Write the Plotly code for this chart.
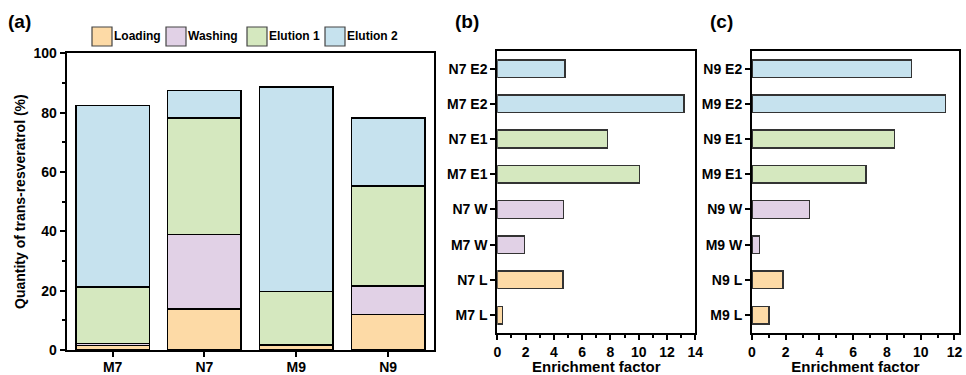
import plotly.graph_objects as go

# ---------------- data ----------------
samples = ["M7", "N7", "M9", "N9"]
steps = ["Loading", "Washing", "Elution 1", "Elution 2"]
loading = [1.5, 13.9, 1.7, 11.9]
washing = [0.7, 25.0, 0.2, 9.6]
elution1 = [19.0, 39.3, 17.8, 33.7]
elution2 = [61.2, 9.2, 69.0, 23.0]

b_labels = ["M7 L", "N7 L", "M7 W", "N7 W", "M7 E1", "N7 E1", "M7 E2", "N7 E2"]
b_values = [0.38, 4.64, 1.91, 4.67, 10.04, 7.78, 13.2, 4.77]
c_labels = ["M9 L", "N9 L", "M9 W", "N9 W", "M9 E1", "N9 E1", "M9 E2", "N9 E2"]
c_values = [1.01, 1.85, 0.45, 3.41, 6.76, 8.44, 11.48, 9.45]
step_of_bar = [0, 0, 1, 1, 2, 2, 3, 3]

colors = ["#FDDAA6", "#E1D1E6", "#D5E8BF", "#C6E2EE"]

W, H = 966, 375
FONT = "Arial, Liberation Sans, sans-serif"


def px(x):
    return x / W


def py(y):
    return 1 - y / H


fig = go.Figure()

# panel (a) stacked bars
for name, vals, col in zip(steps, [loading, washing, elution1, elution2], colors):
    fig.add_trace(go.Bar(x=samples, y=vals, name=name, marker=dict(color=col, line=dict(color="black", width=1.5)),
                         width=0.8, xaxis="x", yaxis="y", showlegend=False))

# panel (b)
fig.add_trace(go.Bar(y=b_labels, x=b_values, orientation="h", width=0.5,
                     marker=dict(color=[colors[i] for i in step_of_bar], line=dict(color="#333", width=1.5)),
                     xaxis="x2", yaxis="y2", showlegend=False))
# panel (c)
fig.add_trace(go.Bar(y=c_labels, x=c_values, orientation="h", width=0.5,
                     marker=dict(color=[colors[i] for i in step_of_bar], line=dict(color="#333", width=1.5)),
                     xaxis="x3", yaxis="y3", showlegend=False))

tickfont = dict(family=FONT, size=14, color="black", weight="bold")
axcommon = dict(showline=True, linecolor="black", linewidth=2, mirror=True, ticks="outside",
                ticklen=5, tickwidth=1.5, tickcolor="black", tickfont=tickfont, showgrid=False,
                zeroline=False, automargin=False, ticklabeloverflow="allow")
minor_common = dict(ticks="outside", ticklen=3, tickwidth=1.5, tickcolor="black")
xtitle_font = dict(family=FONT, size=15, color="black", weight="bold")

fig.update_layout(
    width=W, height=H, margin=dict(l=0, r=0, t=0, b=0, autoexpand=False),
    plot_bgcolor="white", paper_bgcolor="white", barmode="stack",
    font=dict(family=FONT, color="black"),
    xaxis=dict(domain=[px(66.7), px(434)], range=[-0.5, 3.5], ticklabelstandoff=-2, **axcommon),
    yaxis=dict(domain=[py(350), py(53.3)], range=[0, 100], dtick=20,
               minor=dict(dtick=10, **minor_common),
               title=dict(text="Quantity of trans-resveratrol (%)",
                          font=dict(family=FONT, size=14, color="black", weight="bold"), standoff=5),
               **axcommon),
    xaxis2=dict(domain=[px(497.3), px(695.3)], range=[0, 14], dtick=2, anchor="y2",
                minor=dict(dtick=1, **minor_common),
                title=dict(text="Enrichment factor", font=xtitle_font, standoff=2),
                **axcommon),
    yaxis2=dict(domain=[py(332.7), py(51)], range=[-0.5, 7.5], anchor="x2",
                categoryorder="array", categoryarray=b_labels, **axcommon),
    xaxis3=dict(domain=[px(752), px(959)], range=[0, 12.27], dtick=2, anchor="y3",
                minor=dict(dtick=1, **minor_common),
                title=dict(text="Enrichment factor", font=xtitle_font, standoff=2),
                **axcommon),
    yaxis3=dict(domain=[py(332.7), py(51)], range=[-0.5, 7.5], anchor="x3",
                categoryorder="array", categoryarray=c_labels, **axcommon),
)

# legend for panel (a), drawn as boxes + text
leg_x = [92, 166, 247, 325]
shapes = []
annotations = []
for name, col, lx in zip(steps, colors, leg_x):
    shapes.append(dict(type="rect", xref="paper", yref="paper", x0=px(lx), x1=px(lx + 20),
                       y0=py(46), y1=py(27), fillcolor=col, line=dict(color="#444", width=1.2)))
    annotations.append(dict(xref="paper", yref="paper", x=px(lx + 20), y=py(36.5), text=name,
                            showarrow=False, xanchor="left", yanchor="middle",
                            font=dict(family=FONT, size=12, color="black", weight="bold")))

for lbl, x in [("(a)", 6), ("(b)", 453), ("(c)", 708)]:
    annotations.append(dict(xref="paper", yref="paper", x=px(x), y=py(22), text=lbl, showarrow=False,
                            xanchor="left", yanchor="middle",
                            font=dict(family=FONT, size=19, color="black", weight="bold")))

fig.update_layout(shapes=shapes, annotations=annotations)

fig.write_html("out.html")
